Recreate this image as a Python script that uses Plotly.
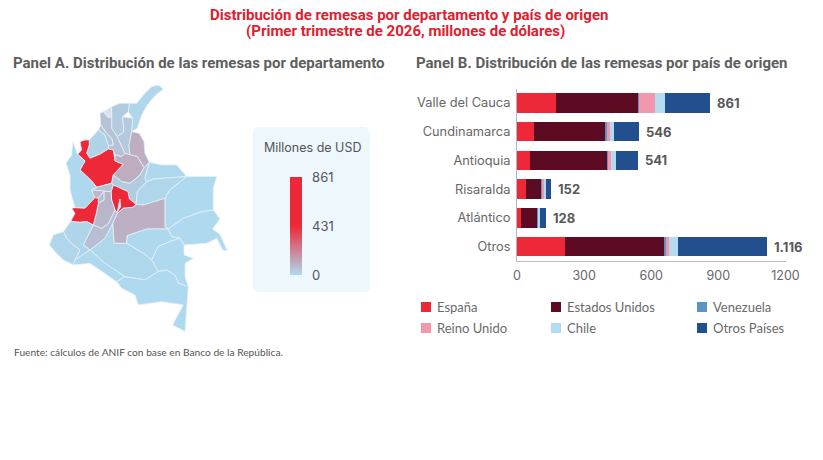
import plotly.graph_objects as go
from plotly.colors import sample_colorscale

W, H = 823, 460

# ---------- Panel B data ----------
departamentos = ["Valle del Cauca", "Cundinamarca", "Antioquia", "Risaralda", "Atlántico", "Otros"]
totales = [861, 546, 541, 152, 128, 1116]
totales_txt = ["861", "546", "541", "152", "128", "1.116"]
espana = [176, 78, 60, 39, 19, 216]
estados_unidos = [366, 319, 343, 71, 72, 442]
venezuela = [4, 3, 2, 1, 6, 6]
reino_unido = [70, 15, 16, 13, 1, 16]
chile = [45, 19, 21, 4, 5, 41]
otros_paises = [200, 112, 99, 24, 25, 395]
paises = ["España", "Estados Unidos", "Venezuela", "Reino Unido", "Chile", "Otros Países"]
colores = ["#ED2939", "#5C0B22", "#5A96C4", "#F397AE", "#B3DCF0", "#22508F"]
series = [espana, estados_unidos, venezuela, reino_unido, chile, otros_paises]
x_ticks = [0, 300, 600, 900, 1200]

# ---------- Panel A data: approximate department outlines (lon, lat) ----------
limites = {
 "La Guajira": [(-73.51,11.26),(-73.01,11.26),(-72.45,11.94),(-72.00,12.39),(-71.55,12.50),(-71.21,12.23),(-71.77,11.78),(-72.29,11.15),(-72.67,10.47),(-72.97,9.57),(-73.35,9.35),(-73.28,10.25),(-73.57,10.70)],
 "Magdalena": [(-74.70,11.04),(-74.14,11.26),(-73.51,11.26),(-73.57,10.70),(-73.96,10.36),(-73.87,9.35),(-74.32,9.01),(-74.70,9.57),(-74.70,10.36)],
 "Bolívar": [(-75.49,10.59),(-75.26,10.70),(-74.92,10.29),(-74.70,10.36),(-74.70,9.57),(-74.32,9.01),(-73.80,7.88),(-74.02,7.66),(-74.47,7.77),(-74.59,8.11),(-74.92,8.18),(-74.92,8.40),(-74.59,8.45),(-74.70,8.90),(-75.04,9.23),(-75.44,9.80)],
 "Sucre": [(-75.44,9.80),(-75.04,9.23),(-74.70,8.90),(-74.59,8.45),(-74.92,8.40),(-75.15,9.12),(-75.60,9.46)],
 "Córdoba": [(-75.60,9.46),(-75.15,9.12),(-74.92,8.40),(-74.92,8.18),(-75.49,7.82),(-76.16,7.55),(-76.39,7.88),(-76.21,8.45),(-76.21,8.79)],
 "Antioquia": [(-74.92,8.18),(-74.59,8.11),(-74.47,7.37),(-73.91,7.14),(-74.59,6.42),(-74.70,5.86),(-75.71,5.59),(-76.05,6.01),(-76.84,6.76),(-76.50,7.37),(-77.00,7.82),(-76.73,8.11),(-76.84,8.67),(-76.50,8.79),(-76.21,8.79),(-76.21,8.45),(-76.39,7.88),(-76.16,7.55),(-75.49,7.82)],
 "Cesar": [(-73.96,10.36),(-73.28,10.25),(-73.35,9.35),(-73.53,8.40),(-73.46,7.77),(-73.80,7.88),(-74.32,9.01),(-73.87,9.35)],
 "Norte de Santander": [(-73.35,9.35),(-72.83,9.24),(-72.51,8.67),(-72.45,7.88),(-72.15,7.28),(-72.51,6.92),(-72.97,7.66),(-73.46,7.77),(-73.53,8.40)],
 "Santander": [(-73.80,7.88),(-73.46,7.77),(-72.97,7.66),(-72.51,6.92),(-72.78,6.42),(-73.46,5.86),(-74.02,5.97),(-74.59,6.42),(-73.91,7.14),(-74.47,7.37),(-74.47,7.77),(-74.02,7.66)],
 "Boyacá": [(-74.70,5.86),(-74.59,6.42),(-74.02,5.97),(-73.46,5.86),(-72.78,6.42),(-72.51,6.92),(-72.15,7.28),(-72.45,6.19),(-72.33,5.97),(-72.97,5.29),(-73.05,4.44),(-73.50,4.80),(-73.60,5.30),(-73.80,5.41),(-74.59,5.74)],
 "Cundinamarca": [(-74.59,5.74),(-73.80,5.41),(-73.60,5.30),(-73.50,4.80),(-73.05,4.44),(-73.23,4.24),(-73.91,4.17),(-74.32,3.83),(-74.47,4.06),(-74.70,4.73),(-74.74,5.29)],
 "Arauca": [(-72.15,7.28),(-71.32,7.10),(-70.31,7.10),(-69.63,6.31),(-71.88,6.15),(-72.33,5.97),(-72.45,6.19)],
 "Casanare": [(-72.33,5.97),(-71.88,6.15),(-69.63,6.31),(-70.76,5.41),(-71.10,4.84),(-72.56,4.39),(-73.05,4.44),(-72.97,5.29)],
 "Vichada": [(-69.63,6.31),(-67.60,6.31),(-67.83,5.52),(-67.83,4.06),(-68.73,3.90),(-69.86,3.49),(-70.87,2.77),(-71.10,2.93),(-71.10,4.84),(-70.76,5.41)],
 "Meta": [(-74.32,3.83),(-73.91,4.17),(-73.23,4.24),(-73.05,4.44),(-72.56,4.39),(-71.10,4.84),(-71.10,2.93),(-70.87,2.77),(-72.33,2.77),(-73.64,2.32),(-73.69,1.80),(-74.54,1.80),(-74.63,3.15)],
 "Guainía": [(-70.87,2.77),(-69.86,3.49),(-68.73,3.90),(-67.83,4.06),(-67.38,3.45),(-67.88,2.77),(-67.38,2.41),(-66.88,1.29),(-67.20,1.35),(-67.60,2.14),(-68.28,1.80),(-69.81,1.69),(-70.08,2.14),(-70.65,2.25)],
 "Guaviare": [(-73.64,2.32),(-72.33,2.77),(-70.87,2.77),(-70.65,2.25),(-70.08,2.14),(-70.76,1.92),(-71.55,1.58),(-72.00,0.68),(-72.56,1.13),(-73.69,1.80)],
 "Vaupés": [(-72.00,0.68),(-71.55,1.58),(-70.76,1.92),(-70.08,2.14),(-69.81,1.69),(-69.81,1.02),(-69.18,0.79),(-69.74,0.45),(-69.74,-0.45),(-69.52,-1.12),(-70.19,-0.90),(-70.42,-0.34),(-70.98,0.00),(-71.55,-0.11)],
 "Caquetá": [(-74.63,3.15),(-74.54,1.80),(-73.69,1.80),(-72.56,1.13),(-72.00,0.68),(-71.55,-0.11),(-72.45,-0.67),(-73.80,-0.45),(-75.15,0.45),(-76.16,1.35),(-75.15,2.14)],
 "Huila": [(-74.47,4.06),(-74.32,3.83),(-74.63,3.15),(-75.15,2.14),(-76.16,1.35),(-76.61,1.69),(-76.39,2.14),(-75.94,3.04),(-75.37,2.82),(-74.92,3.15)],
 "Tolima": [(-74.74,5.29),(-74.70,4.73),(-74.47,4.06),(-74.92,3.15),(-75.37,2.82),(-75.94,3.04),(-75.71,3.94),(-75.60,4.51),(-75.22,4.73),(-75.22,5.34)],
 "Caldas": [(-76.05,5.41),(-75.71,5.59),(-74.70,5.86),(-74.59,5.74),(-74.74,5.29),(-75.22,5.34)],
 "Risaralda": [(-76.05,5.41),(-75.22,5.34),(-75.60,4.84),(-75.82,4.89),(-75.94,5.07)],
 "Quindío": [(-75.22,5.34),(-75.22,4.73),(-75.60,4.51),(-75.60,4.84)],
 "Chocó": [(-77.33,8.67),(-77.00,7.82),(-76.50,7.37),(-76.84,6.76),(-76.05,6.01),(-75.71,5.59),(-76.05,5.41),(-75.94,5.07),(-75.82,4.89),(-76.50,4.17),(-77.18,4.21),(-77.51,5.41),(-77.51,6.42),(-77.78,7.21),(-77.40,7.77)],
 "Valle del Cauca": [(-77.47,3.27),(-77.18,3.83),(-77.40,4.17),(-77.18,4.21),(-76.50,4.17),(-75.82,4.89),(-75.60,4.84),(-75.60,4.51),(-75.71,3.94),(-75.94,3.04),(-76.39,3.27),(-76.84,3.22)],
 "Cauca": [(-77.47,3.27),(-76.84,3.22),(-76.39,3.27),(-75.94,3.04),(-76.39,2.14),(-76.61,1.69),(-76.16,1.35),(-77.18,0.68),(-76.84,1.35),(-77.29,1.69),(-77.74,2.14),(-77.96,2.59)],
 "Nariño": [(-78.91,1.69),(-78.64,2.37),(-77.96,2.59),(-77.74,2.14),(-77.29,1.69),(-76.84,1.35),(-77.18,0.68),(-77.29,0.34),(-77.96,0.68),(-78.53,1.24)],
 "Putumayo": [(-77.18,0.68),(-76.16,1.35),(-75.15,0.45),(-73.80,-0.45),(-74.36,-0.79),(-75.49,0.00),(-76.16,0.45),(-77.29,0.34)],
 "Amazonas": [(-74.36,-0.79),(-73.80,-0.45),(-72.45,-0.67),(-71.55,-0.11),(-70.98,0.00),(-70.42,-0.34),(-70.19,-0.90),(-69.52,-1.12),(-69.74,-4.16),(-70.58,-3.71),(-69.86,-2.36),(-71.32,-2.14),(-72.90,-2.36),(-73.12,-1.69),(-74.02,-1.24)],
 "Atlántico": [(-75.26,10.70),(-74.70,11.04),(-74.70,10.36),(-74.92,10.29)],
 "Bogotá": [(-74.32,3.90),(-74.14,4.80),(-74.09,4.28)],
}
valores = {
 "La Guajira": 8, "Magdalena": 35, "Bolívar": 55, "Sucre": 45, "Córdoba": 15, "Antioquia": 541,
 "Cesar": 40, "Norte de Santander": 105, "Santander": 110, "Boyacá": 35, "Cundinamarca": 546,
 "Arauca": 3, "Casanare": 8, "Vichada": 1, "Meta": 100, "Guainía": 1, "Guaviare": 2, "Vaupés": 1,
 "Caquetá": 6, "Huila": 65, "Tolima": 85, "Caldas": 60, "Risaralda": 80, "Quindío": 70, "Chocó": 3,
 "Valle del Cauca": 861, "Cauca": 10, "Nariño": 8, "Putumayo": 3, "Amazonas": 1,
}
sin_dato = {"Atlántico": "#DDE2EA", "Bogotá": "#FFFFFF"}
escala_ticks = [0, 431, 861]
escala_max = 861
escala = [[0, "#AED9EE"], [0.5, "#ED2939"], [1, "#ED2939"]]
lon_rango = [-79.0, -66.905]
lat_rango = [-4.19, 12.5]

fig = go.Figure()

# ---------- Panel A ----------
for nombre, anillo in limites.items():
    if nombre in sin_dato:
        relleno = sin_dato[nombre]
    else:
        relleno = sample_colorscale(escala, [valores[nombre] / escala_max])[0]
    lons = [p[0] for p in anillo] + [anillo[0][0]]
    lats = [p[1] for p in anillo] + [anillo[0][1]]
    fig.add_trace(go.Scatter(x=lons, y=lats, mode="lines", fill="toself", fillcolor=relleno, name=nombre,
                             line=dict(color="#E4F1F9", width=0.8), showlegend=False,
                             hoverinfo="name", xaxis="x2", yaxis="y2"))

# colour scale of the map
fig.add_trace(go.Scatter(
    x=[None, None], y=[None, None], mode="markers", showlegend=False, xaxis="x2", yaxis="y2",
    marker=dict(color=[0, escala_max], cmin=0, cmax=escala_max, colorscale=escala, showscale=True,
                colorbar=dict(x=290 / W, xanchor="left", xpad=0, y=1 - 226 / H, yanchor="middle", ypad=0,
                              len=98 / H, lenmode="fraction", thickness=12, thicknessmode="pixels",
                              outlinewidth=0, tickvals=escala_ticks, ticks="outside", ticklen=8,
                              tickcolor="rgba(0,0,0,0)", tickfont=dict(family="Inter", size=13, color="#555555"))),
))

# ---------- Panel B ----------
for nombre, color, vals in zip(paises, colores, series):
    fig.add_trace(go.Bar(y=departamentos, x=vals, name=nombre, orientation="h", showlegend=False,
                         marker=dict(color=color, line=dict(width=0)), xaxis="x", yaxis="y"))

annotations = []
for d, t, s in zip(departamentos, totales, totales_txt):
    annotations.append(dict(x=t, y=d, xref="x", yref="y", text=f"<b>{s}</b>", showarrow=False, xanchor="left",
                            xshift=5, font=dict(family="Inter", size=13, color="#585858")))


def paper_text(x, y, text, size, color, family, anchor="left"):
    annotations.append(dict(x=x / W, y=1 - y / H, xref="paper", yref="paper", text=text, showarrow=False,
                            xanchor=anchor, yanchor="middle", align="center", xshift=-2 if anchor == "left" else 0,
                            font=dict(family=family, size=size, color=color)))


paper_text(409, 15, "<b>Distribución de remesas por departamento y país de origen</b>", 15, "#E0202F", "Roboto", "center")
paper_text(405, 31.5, "<b>(Primer trimestre de 2026, millones de dólares)</b>", 15, "#E0202F", "Roboto", "center")
paper_text(13, 63, "<b>Panel A. Distribución de las remesas por departamento</b>", 15, "#5E5E5E", "Roboto")
paper_text(416, 63, "<b>Panel B. Distribución de las remesas por país de origen</b>", 15, "#5E5E5E", "Roboto")
paper_text(312, 147, "Millones de USD", 12.5, "#555555", "Inter", "center")
paper_text(14, 352, "Fuente: cálculos de ANIF con base en Banco de la República.", 10.2, "#555555", "Lato")

# manual legend (three unequal columns, two rows)
leg_x = [421, 551, 697]
leg_y = [307, 328]
shapes = []
for i, (nombre, color) in enumerate(zip(paises, colores)):
    lx, ly = leg_x[i % 3], leg_y[i // 3]
    shapes.append(dict(type="rect", xref="paper", yref="paper", x0=lx / W, x1=(lx + 10) / W,
                       y0=1 - (ly + 5) / H, y1=1 - (ly - 5) / H, fillcolor=color, line=dict(width=0)))
    paper_text(lx + 16, ly, nombre, 13, "#6A6A6A", "Lato")

# rounded background of the colour legend
x0, x1, y0, y1, r = 253 / W, 370 / W, 1 - 292 / H, 1 - 127 / H, 6
rx, ry = r / W, r / H
shapes.insert(0, dict(type="path", xref="paper", yref="paper", layer="below", line=dict(width=0), fillcolor="#EEF7FC",
                      path=f"M{x0+rx},{y0} L{x1-rx},{y0} Q{x1},{y0} {x1},{y0+ry} L{x1},{y1-ry} Q{x1},{y1} {x1-rx},{y1} "
                           f"L{x0+rx},{y1} Q{x0},{y1} {x0},{y1-ry} L{x0},{y0+ry} Q{x0},{y0} {x0+rx},{y0} Z"))

fig.update_layout(
    width=W, height=H, margin=dict(l=0, r=0, t=0, b=0, autoexpand=False), paper_bgcolor="white", plot_bgcolor="rgba(0,0,0,0)",
    barmode="stack", bargap=0.32, showlegend=False, annotations=annotations, shapes=shapes,
    font=dict(family="Inter", color="#666666"),
    xaxis=dict(domain=[517 / W, 785.5 / W], range=[0, 1200], tickvals=x_ticks, ticks="outside", ticklen=3,
               tickcolor="rgba(0,0,0,0)", showgrid=False, zeroline=False,
               showline=True, linecolor="#BDBDBD", linewidth=1, anchor="y", tickfont=dict(size=12.5, color="#666666")),
    yaxis=dict(domain=[1 - 261 / H, 1 - 88.5 / H], autorange="reversed", ticks="outside", ticklen=3,
               tickcolor="rgba(0,0,0,0)", showgrid=False, zeroline=False, showline=True, linecolor="#A9BBC9", linewidth=1,
               anchor="x", tickfont=dict(size=12.8, color="#666666")),
    xaxis2=dict(domain=[48 / W, 227 / W], range=lon_rango, visible=False, anchor="y2"),
    yaxis2=dict(domain=[1 - 332 / H, 1 - 85 / H], range=lat_rango, visible=False, anchor="x2"),
)

fig.write_html("out.html", post_script="document.body.style.margin='0';",
               config=dict(displayModeBar=False))
